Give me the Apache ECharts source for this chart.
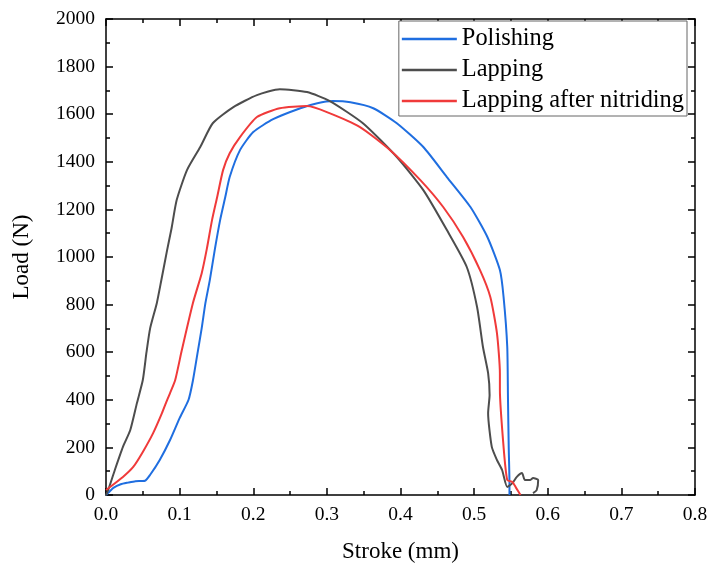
<!DOCTYPE html>
<html>
<head>
<meta charset="utf-8">
<script src="https://cdn.jsdelivr.net/npm/echarts@6/dist/echarts.min.js"></script>
<style>
  html, body { margin: 0; padding: 0; background: #fff; }
  #chart { width: 707px; height: 563px; }
</style>
</head>
<body>
<div id="chart"></div>
<script>
var seriesNames = ['Polishing', 'Lapping', 'Lapping after nitriding']
var seriesColors = ['#1f6ee0', '#4d4d4d', '#f03a3a']

// [stroke (mm), load (N)]
var polishing = [
  [0, 0], [0.005, 15], [0.01, 30], [0.02, 45], [0.03, 52], [0.04, 58], [0.053, 60],
  [0.06, 85], [0.073, 147], [0.087, 231], [0.1, 323], [0.112, 399], [0.118, 480],
  [0.125, 609], [0.13, 701], [0.135, 806], [0.141, 903], [0.148, 1035], [0.155, 1155],
  [0.162, 1252], [0.168, 1336], [0.182, 1449], [0.2, 1525], [0.227, 1579], [0.264, 1625],
  [0.287, 1646], [0.308, 1655], [0.332, 1650], [0.363, 1625], [0.395, 1562], [0.431, 1462],
  [0.463, 1336], [0.495, 1210], [0.518, 1084], [0.535, 945], [0.54, 832], [0.545, 622],
  [0.546, 400], [0.547, 200], [0.548, 50], [0.548, 0]
]
var lapping = [
  [0, 0], [0.003, 21], [0.012, 105], [0.023, 202], [0.033, 273], [0.042, 386], [0.05, 483],
  [0.055, 600], [0.06, 701], [0.069, 806], [0.075, 900], [0.083, 1029], [0.089, 1120],
  [0.096, 1239], [0.11, 1365], [0.128, 1462], [0.145, 1562], [0.173, 1630], [0.205, 1680],
  [0.236, 1705], [0.273, 1693], [0.304, 1655], [0.349, 1562], [0.395, 1420], [0.431, 1281],
  [0.463, 1113], [0.49, 958], [0.504, 790], [0.512, 622], [0.519, 512], [0.521, 420],
  [0.519, 344], [0.524, 202], [0.531, 147], [0.538, 105], [0.545, 34], [0.552, 50],
  [0.558, 76], [0.565, 92], [0.569, 63], [0.576, 63], [0.58, 71], [0.587, 63],
  [0.585, 21], [0.58, 8]
]
var nitriding = [
  [0, 21], [0.023, 76], [0.037, 118], [0.05, 181], [0.064, 260], [0.076, 344], [0.083, 399],
  [0.087, 428], [0.094, 483], [0.103, 609], [0.118, 806], [0.13, 932], [0.137, 1035],
  [0.144, 1155], [0.151, 1252], [0.159, 1365], [0.168, 1436], [0.182, 1504], [0.205, 1588],
  [0.236, 1625], [0.273, 1634], [0.3, 1609], [0.345, 1546], [0.386, 1449], [0.427, 1323],
  [0.458, 1210], [0.485, 1084], [0.508, 945], [0.522, 832], [0.531, 680], [0.535, 512],
  [0.535, 441], [0.54, 202], [0.545, 63], [0.552, 55], [0.557, 30], [0.563, 0]
]
var seriesData = [polishing, lapping, nitriding]

var font = 'Liberation Serif'
var axisLine = { show: true, onZero: false, lineStyle: { color: '#000', width: 1.5 } }
var tick = { show: true, inside: true, length: 7, lineStyle: { color: '#000', width: 1.5 } }
var minor = { show: true, splitNumber: 2, length: 4, lineStyle: { color: '#000', width: 1.5 } }

var chart = echarts.init(document.getElementById('chart'))
chart.setOption({
  animation: false,
  backgroundColor: '#fff',
  grid: { left: 106, right: 12, top: 19, bottom: 68, containLabel: false, outerBoundsMode: 'none' },
  legend: {
    orient: 'vertical',
    right: 20,
    top: 21,
    data: seriesNames,
    icon: 'rect',
    backgroundColor: '#fff',
    borderColor: '#666',
    borderWidth: 1,
    borderRadius: 0,
    padding: [4, 3, 1, 3],
    itemGap: 3,
    itemWidth: 55,
    itemHeight: 2.5,
    textStyle: { fontFamily: font, fontSize: 24.4, lineHeight: 28, color: '#000' }
  },
  xAxis: [{
    type: 'value', min: 0, max: 0.8, interval: 0.1,
    name: 'Stroke (mm)', nameLocation: 'middle', nameGap: 45,
    nameTextStyle: { fontFamily: font, fontSize: 23, color: '#000' },
    axisLine: axisLine, axisTick: tick, minorTick: minor,
    splitLine: { show: false },
    axisLabel: { fontFamily: font, fontSize: 19.5, color: '#000', margin: 10,
      formatter: function(v) { return v.toFixed(1) } }
  }, {
    type: 'value', position: 'top', min: 0, max: 0.8, interval: 0.1,
    axisLine: axisLine, axisTick: tick, minorTick: minor,
    splitLine: { show: false }, axisLabel: { show: false }
  }],
  yAxis: [{
    type: 'value', min: 0, max: 2000, interval: 200,
    name: 'Load (N)', nameLocation: 'middle', nameGap: 73,
    nameTextStyle: { fontFamily: font, fontSize: 23, color: '#000' },
    axisLine: axisLine, axisTick: tick, minorTick: minor,
    splitLine: { show: false },
    axisLabel: { fontFamily: font, fontSize: 19.5, color: '#000', margin: 11,
      formatter: function(v) { return String(v) } }
  }, {
    type: 'value', position: 'right', min: 0, max: 2000, interval: 200,
    axisLine: axisLine, axisTick: tick, minorTick: minor,
    splitLine: { show: false }, axisLabel: { show: false }
  }],
  series: seriesNames.map(function(name, i) {
    return {
      name: name,
      type: 'line',
      xAxisIndex: 0,
      yAxisIndex: 0,
      data: seriesData[i],
      symbol: 'none',
      smooth: 0.2,
      color: seriesColors[i],
      lineStyle: { width: 2, color: seriesColors[i] }
    }
  })
})
</script>
</body>
</html>
